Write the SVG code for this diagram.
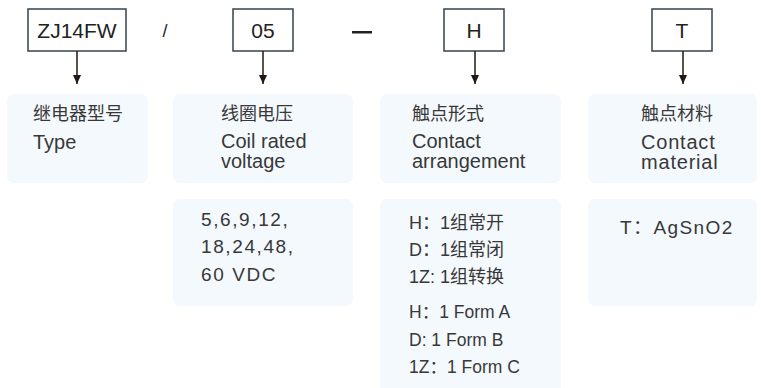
<svg xmlns="http://www.w3.org/2000/svg" width="761" height="388" viewBox="0 0 761 388">
<defs>
<style>
.code{fill:#fff;stroke:#34434d;stroke-width:1.5}
.card{fill:#f4f9fe}
.t{font-family:"Liberation Sans","Noto Sans CJK SC",sans-serif;fill:#383838;font-size:20px}
.cn{font-family:"Noto Sans CJK SC",sans-serif;fill:#383838;font-size:18px}
.mix{font-family:"Liberation Sans","Noto Sans CJK SC",sans-serif;fill:#383838;font-size:18px}
.form{font-family:"Liberation Sans","Noto Sans CJK SC",sans-serif;fill:#383838;font-size:17.5px}
.top{font-family:"Liberation Sans",sans-serif;fill:#222;font-size:21px;text-anchor:middle}
.conn{stroke:#231815;stroke-width:1.5;fill:none;marker-end:url(#ah)}
</style>
<marker id="ah" viewBox="0 0 10 8" refX="9" refY="4" markerWidth="10" markerHeight="8" markerUnits="userSpaceOnUse" orient="auto">
<path d="M0,0 L9,4 L0,8 Z" fill="#231815"/>
</marker>
</defs>
<rect width="761" height="388" fill="#fff"/>

<g id="code-type"><rect class="code" x="28" y="9" width="98" height="42"/><text class="top" x="77" y="37.5">ZJ14FW</text></g>
<g id="sep1"><text x="165" y="37" class="top" style="font-size:18px">/</text></g>
<g id="code-voltage"><rect class="code" x="233" y="9" width="60" height="42"/><text class="top" x="263" y="37.5">05</text></g>
<g id="sep2"><rect x="352" y="31" width="20" height="2.5" fill="#222"/></g>
<g id="code-arr"><rect class="code" x="444" y="9" width="60" height="42"/><text class="top" x="474" y="37.5">H</text></g>
<g id="code-mat"><rect class="code" x="652" y="9" width="60" height="42"/><text class="top" x="682" y="37.5">T</text></g>

<g id="connectors">
<path class="conn" d="M77,51 V84"/>
<path class="conn" d="M263,51 V84"/>
<path class="conn" d="M475,51 V84"/>
<path class="conn" d="M683,51 V84"/>
</g>

<g id="card-type"><rect class="card" x="7" y="94" width="141" height="89" rx="7"/>
<text class="cn" x="33" y="120">继电器型号</text>
<text class="t" x="33" y="149">Type</text></g>

<g id="card-voltage"><rect class="card" x="173" y="94" width="180" height="89" rx="7"/>
<text class="cn" x="221" y="120">线圈电压</text>
<text class="t" x="221" y="148">Coil rated</text>
<text class="t" x="221" y="168">voltage</text></g>

<g id="card-arr"><rect class="card" x="380" y="94" width="181" height="89" rx="7"/>
<text class="cn" x="412" y="120">触点形式</text>
<text class="t" x="412" y="148">Contact</text>
<text class="t" x="412" y="168">arrangement</text></g>

<g id="card-mat"><rect class="card" x="588" y="94" width="169" height="89" rx="7"/>
<text class="cn" x="641" y="120">触点材料</text>
<text class="t" x="641" y="149" letter-spacing="0.8">Contact</text>
<text class="t" x="641" y="169" letter-spacing="0.8">material</text></g>

<g id="card-voltage-values"><rect class="card" x="173" y="199" width="180" height="107" rx="7"/>
<text class="t" x="201" y="226" letter-spacing="1.6" style="font-size:19px">5,6,9,12,</text>
<text class="t" x="201" y="253" letter-spacing="1.6" style="font-size:19px">18,24,48,</text>
<text class="t" x="201" y="281" letter-spacing="1.6" style="font-size:19px">60 VDC</text></g>

<g id="card-arr-values"><rect class="card" x="380" y="199" width="181" height="200" rx="7"/>
<text class="mix" x="409" y="229">H：1组常开</text>
<text class="mix" x="409" y="256">D：1组常闭</text>
<text class="mix" x="409" y="283">1Z: 1组转换</text>
<text class="form" x="409" y="318">H：1 Form A</text>
<text class="form" x="409" y="346">D: 1 Form B</text>
<text class="form" x="409" y="373">1Z：1 Form C</text></g>

<g id="card-mat-values"><rect class="card" x="588" y="199" width="169" height="107" rx="7"/>
<text class="t" x="620" y="234" letter-spacing="1.4" style="font-size:19px">T：AgSnO2</text></g>
</svg>
